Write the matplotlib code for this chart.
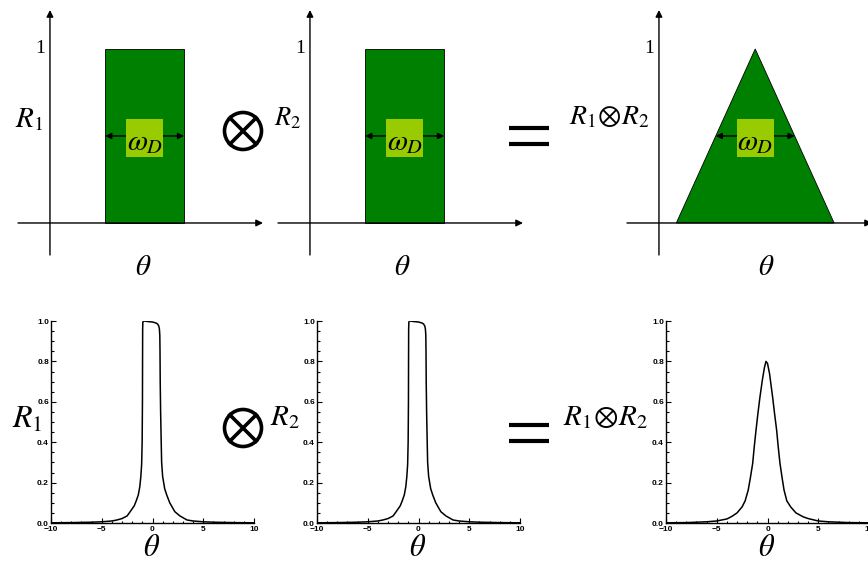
"""Rectangle / Darwin-curve convolution sketch: R1 (x) R2 = R1(x)R2."""

import matplotlib.pyplot as plt
from matplotlib.patches import Rectangle, Polygon, Circle
from matplotlib.ticker import MultipleLocator

plt.rcParams["mathtext.fontset"] = "stix"
plt.rcParams["font.family"] = ["Liberation Serif", "DejaVu Serif"]

# Schematic (top row): box response of width omega_D, height 1
rect_center = 1.2
rect_width = 1.0
rect_height = 1.0
tri_x = [0.22, 1.22, 2.22]
tri_y = [0.0, 1.0, 0.0]
box_width = 0.47
box_height = 0.22

r1_theta = [-10, -8, -6, -5, -4, -3.5, -3, -2.5, -2.2, -1.8, -1.6, -1.4, -1.25, -1.15,
            -1.07, -1.02, -0.99, -0.98, -0.97, -0.95, -0.85, -0.4, 0.0, 0.35, 0.5, 0.62,
            0.68, 0.72, 0.74, 0.76, 0.8, 0.85, 0.9, 1.0, 1.2, 1.4, 1.7, 2.2, 2.7, 3.4,
            4, 5, 6, 8, 10]
r1_val = [0.001, 0.002, 0.004, 0.006, 0.01, 0.015, 0.022, 0.035, 0.056, 0.085, 0.11,
          0.139, 0.18, 0.23, 0.29, 0.4, 0.6, 0.8, 0.96, 0.995, 1.0, 0.997, 0.995, 0.99,
          0.985, 0.975, 0.96, 0.93, 0.85, 0.7, 0.55, 0.42, 0.3, 0.23, 0.17, 0.139, 0.1,
          0.056, 0.035, 0.015, 0.01, 0.006, 0.004, 0.002, 0.001]

conv_theta = [-10, -8, -6, -5, -4, -3.5, -3, -2.5, -2.2, -1.9, -1.7, -1.46, -1.3, -1.13,
              -0.95, -0.74, -0.5, -0.3, -0.15, 0.0, 0.2, 0.5, 0.7, 0.9, 1.05, 1.23, 1.45,
              1.63, 1.9, 2.28, 2.8, 3.5, 4, 5, 6, 8, 10]
conv_val = [0.001, 0.002, 0.006, 0.01, 0.02, 0.033, 0.05, 0.08, 0.11, 0.163, 0.22, 0.295,
            0.38, 0.46, 0.54, 0.625, 0.71, 0.77, 0.8, 0.79, 0.74, 0.625, 0.54, 0.46, 0.38,
            0.295, 0.22, 0.163, 0.11, 0.08, 0.05, 0.031, 0.022, 0.01, 0.006, 0.002, 0.001]

green = "#008000"
light = "#99CC00"

W, H = 868, 563
fig = plt.figure(figsize=(W / 100, H / 100), dpi=100)


def px_axes(x0, y0, x1, y1):
    # pixel box (top-left origin) -> figure axes
    return fig.add_axes([x0 / W, 1 - y1 / H, (x1 - x0) / W, (y1 - y0) / H])


arrow_kw = dict(arrowstyle="-|>", color="black", lw=1.0, mutation_scale=10,
                shrinkA=0, shrinkB=0)


def schematic(ax):
    ax.set_xlim(-0.405, 2.70)
    ax.set_ylim(-0.184, 1.224)
    ax.axis("off")
    ax.annotate("", xy=(2.70, 0), xytext=(-0.405, 0), arrowprops=arrow_kw)
    ax.annotate("", xy=(0, 1.224), xytext=(0, -0.184), arrowprops=arrow_kw)
    ax.text(-0.06, 1.0, "1", ha="right", va="center", fontsize=14)


def omega_box(ax, cx, half):
    ax.annotate("", xy=(cx + half, 0.5), xytext=(cx - half, 0.5),
                arrowprops=dict(arrowstyle="<|-|>", color="black", lw=1.0,
                                mutation_scale=9, shrinkA=0, shrinkB=0), zorder=3)
    ax.add_patch(Rectangle((cx - box_width / 2, 0.49 - box_height / 2), box_width,
                           box_height, facecolor=light, edgecolor="none", zorder=4))
    ax.text(cx, 0.46, r"$\omega_D$", ha="center", va="center", fontsize=21, zorder=5)


for x0 in (18, 278):
    ax = px_axes(x0, 10, x0 + 245, 255)
    schematic(ax)
    ax.add_patch(Rectangle((rect_center - rect_width / 2, 0), rect_width, rect_height,
                           facecolor=green, edgecolor="black", lw=0.6, zorder=2))
    omega_box(ax, rect_center, rect_width / 2)

ax = px_axes(627, 10, 872, 255)
schematic(ax)
ax.add_patch(Polygon(list(zip(tri_x, tri_y)), closed=True, facecolor=green,
                     edgecolor="black", lw=0.6, zorder=2))
omega_box(ax, tri_x[1], (tri_x[2] - tri_x[0]) / 4)


def curve(ax, x, y):
    ax.plot(x, y, color="black", lw=1.1)
    for s in ("top", "right"):
        ax.spines[s].set_visible(False)
    for s in ("left", "bottom"):
        ax.spines[s].set_linewidth(1.0)
    ax.xaxis.set_major_locator(MultipleLocator(5))
    ax.xaxis.set_minor_locator(MultipleLocator(1))
    ax.yaxis.set_major_locator(MultipleLocator(0.2))
    ax.yaxis.set_minor_locator(MultipleLocator(0.05))
    ax.tick_params(which="both", direction="in", width=0.8)
    ax.tick_params(axis="x", pad=2.2)
    ax.tick_params(axis="y", pad=1.5)
    ax.tick_params(which="major", length=3.5)
    ax.tick_params(which="minor", length=1.8)
    ax.set_xlim(-10, 10)
    ax.set_ylim(0, 1.0)
    xt = [-10, -5, 0, 5, 10]
    yt = [0.0, 0.2, 0.4, 0.6, 0.8, 1.0]
    ax.set_xticks(xt)
    ax.set_xticklabels([f"{t}".replace("-", "\u2212") for t in xt],
                       fontfamily="Liberation Sans", fontweight="bold", fontsize=6)
    ax.set_yticks(yt)
    ax.set_yticklabels([f"{t:.1f}" for t in yt],
                       fontfamily="Liberation Sans", fontweight="bold", fontsize=6)
    ax.set_xlim(-10, 10)
    ax.set_ylim(0, 1.0)


curve(px_axes(51, 321, 254, 523), r1_theta, r1_val)
curve(px_axes(317, 321, 520, 523), r1_theta, r1_val)
curve(px_axes(666, 321, 869, 523), conv_theta, conv_val)

# overlay in pixel coordinates for labels and operator symbols
ov = fig.add_axes([0, 0, 1, 1], zorder=10)
ov.set_xlim(0, W)
ov.set_ylim(H, 0)
ov.axis("off")
ov.patch.set_alpha(0)

for cy in (131, 428):
    ov.add_patch(Circle((243, cy), 18.5, facecolor="none", edgecolor="black", lw=2.6))
    d = 18.5 * 0.707
    ov.plot([243 - d, 243 + d], [cy - d, cy + d], color="black", lw=2.6)
    ov.plot([243 - d, 243 + d], [cy + d, cy - d], color="black", lw=2.6)

for ya, yb in ((128, 144), (425, 441)):
    for yy in (ya, yb):
        ov.plot([509, 549], [yy, yy], color="black", lw=3.0, solid_capstyle="butt")

ov.text(29, 120, r"$R_{\mathit{1}}$", ha="center", va="center", fontsize=21)
ov.text(288, 118, r"$R_{2}$", ha="center", va="center", fontsize=19)
ov.text(610, 118, r"$R_1\!\otimes\! R_2$", ha="center", va="center", fontsize=20)
for tx in (143, 402, 766):
    ov.text(tx, 268, r"$\theta$", ha="center", va="center", fontsize=21)

ov.text(27, 420, r"$R_{\mathit{1}}$", ha="center", va="center", fontsize=23)
ov.text(285, 418, r"$R_{2}$", ha="center", va="center", fontsize=21)
ov.text(606, 418, r"$R_1\!\otimes\! R_2$", ha="center", va="center", fontsize=21)
for tx in (152, 418, 767):
    ov.text(tx, 548, r"$\theta$", ha="center", va="center", fontsize=22)

fig.savefig("out.png", dpi=100)
